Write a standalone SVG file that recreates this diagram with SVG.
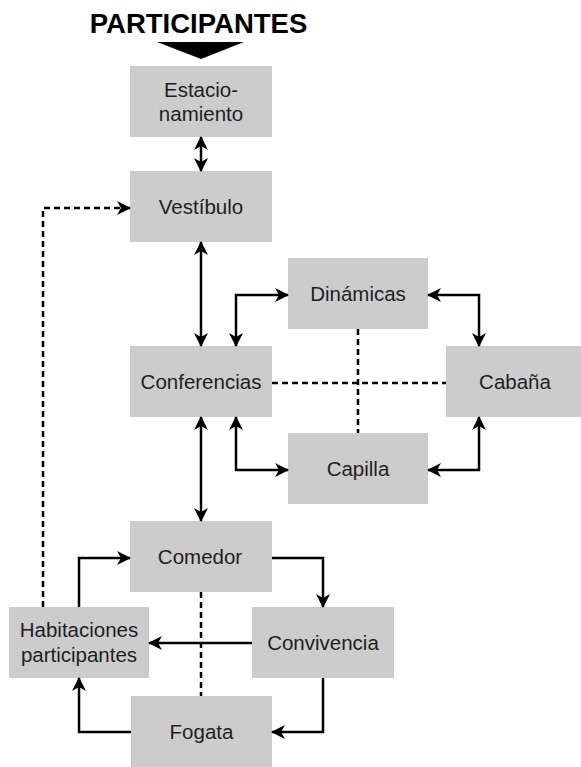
<svg xmlns="http://www.w3.org/2000/svg" width="581" height="767" viewBox="0 0 581 767">
  <style>
    .box { fill: #cccccc; }
    .lbl { font-family: "Liberation Sans", Arial, sans-serif; font-size: 20.5px; fill: #1e1e1e; text-anchor: middle; }
    .title { font-family: "Liberation Sans", Arial, sans-serif; font-size: 27.5px; font-weight: bold; fill: #000; text-anchor: middle; }
    .link { fill: none; stroke: #000; stroke-width: 2.5; }
    .dash { fill: none; stroke: #000; stroke-width: 2.5; stroke-dasharray: 6 4; }
  </style>
  <defs>
    <marker id="head" markerUnits="userSpaceOnUse" markerWidth="14" markerHeight="14" viewBox="0 0 14 14" refX="13" refY="7" orient="auto-start-reverse">
      <path d="M0,0 L14,7 L0,14 L4,7 Z" fill="#000"/>
    </marker>
  </defs>

  <!-- heading -->
  <g id="heading">
    <text class="title" x="198.5" y="33">PARTICIPANTES</text>
    <polygon points="157,42 244,42 201,59" fill="#000"/>
  </g>

  <!-- nodes -->
  <g id="estacionamiento">
    <rect class="box" x="130" y="66" width="142" height="71"/>
    <text class="lbl" x="201" y="96.5">Estacio-</text>
    <text class="lbl" x="201" y="121">namiento</text>
  </g>
  <g id="vestibulo">
    <rect class="box" x="130" y="171" width="142" height="71"/>
    <text class="lbl" x="201" y="214">Vestíbulo</text>
  </g>
  <g id="conferencias">
    <rect class="box" x="130" y="346" width="142" height="71"/>
    <text class="lbl" x="201" y="389">Conferencias</text>
  </g>
  <g id="dinamicas">
    <rect class="box" x="288" y="258" width="140" height="71"/>
    <text class="lbl" x="358" y="301">Dinámicas</text>
  </g>
  <g id="cabana">
    <rect class="box" x="446" y="346" width="135" height="71"/>
    <text class="lbl" x="515" y="389">Cabaña</text>
  </g>
  <g id="capilla">
    <rect class="box" x="288" y="433" width="140" height="71"/>
    <text class="lbl" x="358" y="476">Capilla</text>
  </g>
  <g id="comedor">
    <rect class="box" x="130" y="521" width="142" height="71"/>
    <text class="lbl" x="200" y="564">Comedor</text>
  </g>
  <g id="habitaciones">
    <rect class="box" x="9" y="607" width="140" height="71"/>
    <text class="lbl" x="79" y="637">Habitaciones</text>
    <text class="lbl" x="79" y="661.5">participantes</text>
  </g>
  <g id="convivencia">
    <rect class="box" x="252" y="607" width="142" height="71"/>
    <text class="lbl" x="323" y="650">Convivencia</text>
  </g>
  <g id="fogata">
    <rect class="box" x="131" y="696" width="141" height="71"/>
    <text class="lbl" x="201.5" y="739">Fogata</text>
  </g>

  <!-- connectors -->
  <g id="connectors">
    <path class="link" d="M201,137 V171" marker-start="url(#head)" marker-end="url(#head)"/>
    <path class="link" d="M201,242 V346" marker-start="url(#head)" marker-end="url(#head)"/>
    <path class="link" d="M236,346 V295 H288" marker-start="url(#head)" marker-end="url(#head)"/>
    <path class="link" d="M428,295 H479 V346" marker-start="url(#head)" marker-end="url(#head)"/>
    <path class="link" d="M236,417 V470 H288" marker-start="url(#head)" marker-end="url(#head)"/>
    <path class="link" d="M428,470 H479 V417" marker-start="url(#head)" marker-end="url(#head)"/>
    <path class="link" d="M201,417 V521" marker-start="url(#head)" marker-end="url(#head)"/>

    <path class="dash" d="M272,383 H446"/>
    <path class="dash" d="M358,329 V433"/>
    <path class="dash" d="M201,592 V696"/>
    <path class="dash" d="M43,607 V208 H130" marker-end="url(#head)"/>

    <path class="link" d="M79,607 V558 H130" marker-end="url(#head)"/>
    <path class="link" d="M272,558 H323 V607" marker-end="url(#head)"/>
    <path class="link" d="M252,643 H149" marker-end="url(#head)"/>
    <path class="link" d="M323,678 V732 H272" marker-end="url(#head)"/>
    <path class="link" d="M131,732 H79 V678" marker-end="url(#head)"/>
  </g>
</svg>
